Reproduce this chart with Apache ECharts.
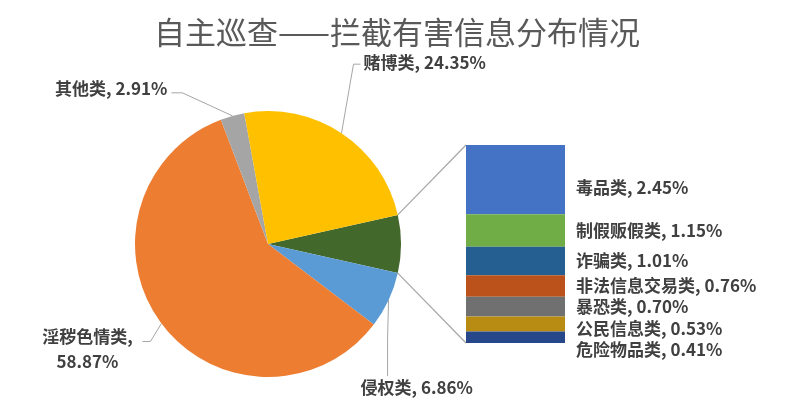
<!DOCTYPE html>
<html>
<head>
<meta charset="utf-8">
<script src="https://cdn.jsdelivr.net/npm/echarts@6/dist/echarts.min.js"></script>
<style>
  html, body { margin: 0; padding: 0; background: #fff; }
  #chart { width: 788px; height: 420px; }
</style>
</head>
<body>
<div id="chart"></div>
<script>
const titleText = '自主巡查——拦截有害信息分布情况';

// pie slices, clockwise after the aggregated slice
const pieNames = ['侵权类', '淫秽色情类', '其他类', '赌博类'];
const pieValues = [6.86, 58.87, 2.91, 24.35];

// the small categories shown in the side bar, top to bottom
const barNames = ['毒品类', '制假贩假类', '诈骗类', '非法信息交易类', '暴恐类', '公民信息类', '危险物品类'];
const barValues = [2.45, 1.15, 1.01, 0.76, 0.70, 0.53, 0.41];

const aggColor = '#43682B';
const pieColors = ['#5B9BD5', '#ED7D31', '#A5A5A5', '#FFC000'];
const barColors = ['#4472C4', '#70AD47', '#255E91', '#BB521B', '#707070', '#B88C12', '#26478A'];

const textColor = '#404040';
const lineColor = '#A6A6A6';
const labelFont = 17;
const fontFamily = '"Noto Sans CJK SC", "Noto Sans", sans-serif';

const PIE = { cx: 268, cy: 244, r: 133 };
const GRID = { left: 466, top: 145, width: 99, height: 198 };

const aggValue = barValues.reduce((s, v) => s + v, 0);
const pieTotal = aggValue + pieValues.reduce((s, v) => s + v, 0);
const startAngle = (aggValue / pieTotal) * 360 / 2;

const fmt = (v) => Number(v).toFixed(2) + '%';

// leader line bends and label anchors, relative to the slice edge point
const pieLabelPlacement = {
  '赌博类': { line: [[12, -69], [19, -69]], at: [22, -71], align: 'left' },
  '其他类': { line: [[-50, -23], [-61, -23]], at: [-65, -27], align: 'right' },
  '淫秽色情类': { line: [[-11, 18], [-19, 18]], at: [-74, 26], align: 'center' },
  '侵权类': { line: [[-1, 38], [-1, 76]], at: [-28, 87], align: 'left' }
};
// small vertical nudges so bar labels do not overlap
const barLabelShift = { '毒品类': 8, '公民信息类': 5, '危险物品类': 12 };

const allPieNames = ['其他'].concat(pieNames);

const pieData = [{
  name: '其他',
  value: aggValue,
  itemStyle: { color: aggColor },
  label: { show: false },
  labelLine: { show: false }
}].concat(pieNames.map((name, i) => ({
  name,
  value: pieValues[i],
  itemStyle: { color: pieColors[i] }
})));

const barSeries = barNames.map((name, i) => ({
  type: 'bar',
  name,
  stack: 'small',
  barWidth: '100%',
  xAxisIndex: 0,
  yAxisIndex: 0,
  data: [barValues[i]],
  itemStyle: { color: barColors[i], borderWidth: 0 },
  label: {
    show: true,
    position: 'right',
    distance: 11,
    offset: [0, barLabelShift[name] || 0],
    color: textColor,
    fontSize: labelFont,
    fontWeight: 'bold',
    fontFamily,
    formatter: () => name + ', ' + fmt(barValues[i])
  }
}));

const chart = echarts.init(document.getElementById('chart'));

chart.setOption({
  animation: false,
  backgroundColor: '#fff',
  title: {
    text: titleText,
    left: 392,
    textAlign: 'center',
    top: 12,
    textStyle: { color: '#595959', fontSize: 31, fontWeight: 'normal', fontFamily }
  },
  grid: { left: GRID.left, top: GRID.top, width: GRID.width, height: GRID.height },
  xAxis: { type: 'category', data: ['其他'], show: false },
  yAxis: { type: 'value', min: 0, max: aggValue, inverse: true, show: false },
  series: [{
    type: 'pie',
    center: [PIE.cx, PIE.cy],
    radius: PIE.r,
    startAngle,
    clockwise: true,
    avoidLabelOverlap: false,
    itemStyle: { borderWidth: 0, borderColor: 'transparent' },
    data: pieData,
    label: {
      color: textColor,
      fontSize: labelFont,
      fontWeight: 'bold',
      fontFamily,
      lineHeight: 25,
      formatter: (p) => p.name === '淫秽色情类'
        ? p.name + ',\n' + fmt(p.value)
        : p.name + ', ' + fmt(p.value)
    },
    labelLine: { show: true, length: 20, length2: 10, lineStyle: { color: lineColor, width: 1 } },
    labelLayout: function (params) {
      const place = pieLabelPlacement[allPieNames[params.dataIndex]];
      if (!place || !params.labelLinePoints) return {};
      const a = params.labelLinePoints[0];
      return {
        x: a[0] + place.at[0],
        y: a[1] + place.at[1],
        align: place.align,
        verticalAlign: 'middle',
        labelLinePoints: [
          [a[0], a[1]],
          [a[0] + place.line[0][0], a[1] + place.line[0][1]],
          [a[0] + place.line[1][0], a[1] + place.line[1][1]]
        ]
      };
    }
  }].concat(barSeries)
});

// connector lines from the aggregated slice to the bar
const aggLayout = chart.getModel().getSeriesByIndex(0).getData().getItemLayout(0);
const edge = (ang) => [aggLayout.cx + aggLayout.r * Math.cos(ang), aggLayout.cy + aggLayout.r * Math.sin(ang)];
const barTop = chart.convertToPixel({ xAxisIndex: 0, yAxisIndex: 0 }, ['其他', 0]);
const barBottom = chart.convertToPixel({ xAxisIndex: 0, yAxisIndex: 0 }, ['其他', aggValue]);
const p1 = edge(aggLayout.startAngle);
const p2 = edge(aggLayout.endAngle);

chart.setOption({
  graphic: [
    { type: 'line', shape: { x1: p1[0], y1: p1[1], x2: GRID.left, y2: barTop[1] }, style: { stroke: lineColor, lineWidth: 1.2 } },
    { type: 'line', shape: { x1: p2[0], y1: p2[1], x2: GRID.left, y2: barBottom[1] }, style: { stroke: lineColor, lineWidth: 1.2 } }
  ]
});
</script>
</body>
</html>
